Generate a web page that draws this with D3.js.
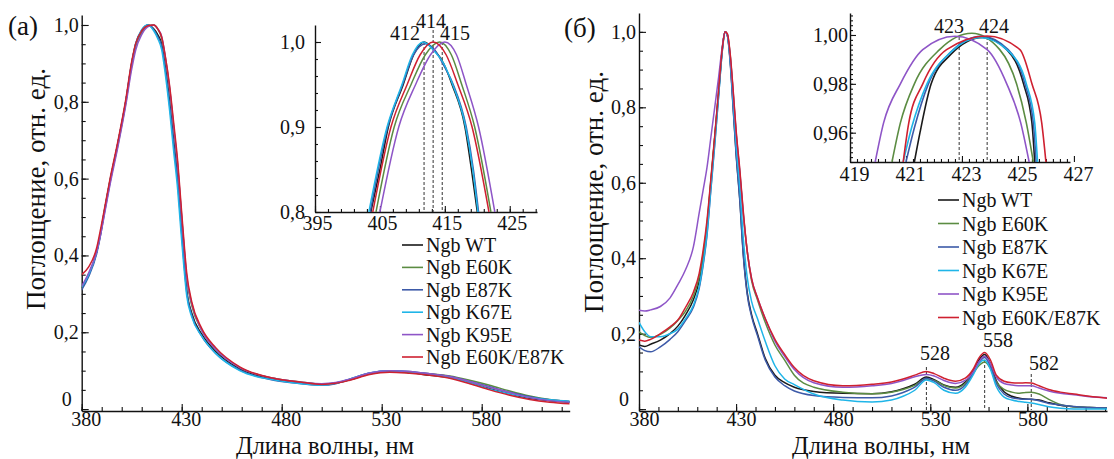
<!DOCTYPE html>
<html>
<head>
<meta charset="utf-8">
<script src="https://cdn.jsdelivr.net/npm/d3@7"></script>
<style>
  body { margin: 0; background: #fff; }
  svg, svg text { font-family: "Liberation Serif", "Times New Roman", "DejaVu Serif", serif; }
</style>
</head>
<body>
<svg width="1114" height="459"></svg>
<script>
const names = ["Ngb WT", "Ngb E60K", "Ngb E87K", "Ngb K67E", "Ngb K95E", "Ngb E60K/E87K"];
const colors = ["#1a1a1a", "#5b8c42", "#3d5aa8", "#1fb5e8", "#8e55c7", "#cf2030"];

// ---- panel (а): main spectra
const wlA = [380, 383.5, 387.5, 389.5, 391.5, 394, 398, 402, 405, 407, 410, 413, 416, 418, 420, 421.6, 424, 426, 428, 429.5, 431, 432.5, 435, 440, 447, 459, 476, 490, 500, 507, 514, 524, 534, 544, 554, 564, 574, 584, 594, 604, 614, 624];
const aWT = [0.315,0.35,0.41,0.46,0.52,0.59,0.69,0.80,0.90,0.95,0.985,1.0,0.99,0.975,0.95,0.90,0.80,0.70,0.60,0.50,0.40,0.31,0.25,0.195,0.15,0.105,0.078,0.068,0.064,0.067,0.076,0.092,0.098,0.095,0.088,0.082,0.068,0.053,0.04,0.028,0.022,0.018];
const aE60K = [0.315,0.35,0.41,0.46,0.52,0.59,0.685,0.795,0.895,0.945,0.98,0.998,1.0,0.99,0.965,0.92,0.83,0.73,0.63,0.53,0.43,0.34,0.27,0.205,0.155,0.108,0.08,0.07,0.065,0.068,0.077,0.093,0.098,0.096,0.092,0.086,0.075,0.062,0.047,0.034,0.025,0.02];
const aE87K = [0.31,0.345,0.405,0.455,0.515,0.585,0.69,0.80,0.90,0.95,0.985,1.0,0.988,0.97,0.945,0.893,0.79,0.69,0.59,0.49,0.39,0.305,0.245,0.19,0.145,0.102,0.075,0.066,0.062,0.066,0.078,0.094,0.1,0.098,0.092,0.085,0.072,0.058,0.044,0.032,0.024,0.02];
const aK67E = [0.318,0.35,0.41,0.46,0.52,0.59,0.69,0.80,0.90,0.952,0.988,1.0,0.985,0.965,0.935,0.88,0.775,0.67,0.57,0.47,0.375,0.295,0.24,0.19,0.145,0.10,0.076,0.066,0.062,0.067,0.078,0.094,0.1,0.097,0.09,0.082,0.068,0.052,0.04,0.03,0.024,0.02];
const aK95E = [0.32,0.355,0.41,0.455,0.51,0.58,0.68,0.79,0.885,0.935,0.975,0.995,1.0,0.99,0.97,0.925,0.835,0.735,0.635,0.535,0.435,0.345,0.275,0.205,0.155,0.108,0.08,0.07,0.066,0.069,0.078,0.094,0.1,0.098,0.092,0.085,0.072,0.057,0.043,0.03,0.022,0.018];
const aDbl = [0.35,0.37,0.42,0.47,0.525,0.595,0.695,0.805,0.905,0.952,0.985,0.998,1.0,0.99,0.968,0.925,0.84,0.745,0.645,0.545,0.445,0.355,0.28,0.21,0.16,0.11,0.08,0.07,0.064,0.067,0.075,0.09,0.096,0.093,0.088,0.08,0.066,0.05,0.036,0.025,0.018,0.014];

// ---- panel (а): inset, [wavelength, value] pairs
const iaWT = [[403.6,0.8],[405,0.85],[406.3,0.9],[408.6,0.95],[410.2,0.985],[411.8,1.0],[413.4,0.99],[414.8,0.975],[416.1,0.95],[418.1,0.9],[419.1,0.85],[420,0.8]];
const iaE60K = [[404.4,0.8],[407.2,0.9],[409.8,0.95],[412,0.985],[414.2,1.0],[416,0.985],[417.6,0.95],[419.6,0.9],[422.1,0.8]];
const iaE87K = [[403.5,0.8],[406.2,0.9],[408.5,0.95],[410.2,0.985],[412,0.998],[413.5,0.99],[415,0.97],[416.3,0.95],[418.3,0.9],[419.4,0.85],[420.2,0.8]];
const iaK67E = [[403.3,0.8],[406.1,0.9],[408.4,0.95],[410,0.985],[411.7,1.0],[413.3,0.99],[414.8,0.975],[416.2,0.95],[418.2,0.9],[419.3,0.85],[420.1,0.8]];
const iaK95E = [[405,0.8],[407.9,0.9],[410.5,0.95],[412.8,0.985],[415,1.0],[416.8,0.985],[418.3,0.95],[420.2,0.9],[422.7,0.8]];
const iaDbl = [[403.9,0.8],[406.7,0.9],[409.2,0.95],[411.2,0.985],[413.2,1.0],[415.2,0.985],[417,0.95],[419.2,0.9],[421.8,0.8]];
const peaksA = [411.8, 413.2, 414.6];
const peakLabelsA = ["412", "414", "415"];

// ---- panel (б): main spectra
const wlB = [380,383,386,391,396,400,404,408,411,413,415,417,419,421,423,424.3,425.5,427,428.5,430,432,433.6,435.7,438,441,445,450,455,460,470,485,500,510,516,522,528,532,537,543,548,552,555,558,561,564,568,572,576,579,582,586,591,597,604,612,621];
const bWT = [.170,.166,.172,.183,.200,.220,.250,.290,.340,.400,.480,.600,.720,.840,.960,1.000,.990,.920,.800,.680,.550,.420,.310,.250,.200,.135,.090,.070,.058,.047,.042,.041,.046,.054,.066,.085,.078,.064,.058,.072,.100,.130,.145,.120,.075,.046,.034,.029,.027,.026,.024,.017,.010,.006,.004,.003];
const bE60K = [.205,.195,.190,.198,.215,.235,.260,.300,.350,.410,.490,.605,.720,.840,.960,1.000,.993,.935,.835,.730,.620,.520,.420,.340,.290,.230,.170,.130,.090,.058,.045,.041,.045,.052,.063,.080,.076,.063,.056,.068,.094,.115,.125,.108,.072,.052,.045,.042,.044,.045,.040,.026,.012,.006,.004,.003];
const bE87K = [.165,.155,.152,.165,.185,.205,.235,.270,.320,.380,.460,.580,.700,.830,.955,1.000,.990,.915,.795,.675,.545,.415,.305,.245,.195,.130,.085,.062,.048,.036,.031,.030,.035,.044,.058,.082,.074,.058,.050,.064,.095,.123,.137,.112,.068,.040,.030,.027,.026,.026,.022,.015,.011,.007,.004,.003];
const bK67E = [.230,.205,.192,.192,.200,.212,.240,.275,.325,.385,.465,.585,.705,.830,.955,1.000,.990,.925,.815,.700,.580,.460,.350,.285,.240,.180,.115,.080,.065,.040,.024,.019,.024,.034,.050,.077,.070,.050,.042,.058,.090,.120,.130,.105,.060,.032,.024,.020,.018,.016,.012,.006,.002,0,0,0];
const bK95E = [.262,.260,.263,.272,.295,.330,.370,.430,.520,.580,.640,.720,.800,.880,.965,1.000,.993,.935,.840,.735,.625,.525,.420,.345,.295,.240,.180,.140,.105,.070,.058,.062,.068,.076,.086,.092,.088,.076,.068,.076,.098,.125,.140,.120,.085,.068,.064,.062,.062,.062,.056,.048,.042,.038,.033,.030];
const bDbl = [.183,.180,.185,.200,.218,.236,.270,.310,.360,.420,.500,.610,.725,.845,.960,1.000,.995,.940,.845,.740,.630,.530,.420,.345,.295,.240,.185,.145,.110,.075,.062,.066,.072,.080,.090,.100,.094,.082,.074,.082,.105,.135,.150,.130,.090,.074,.070,.069,.070,.069,.062,.052,.045,.040,.034,.029];
const peaksB = [528, 558, 582];

// ---- panel (б): inset
const ibWT = [[421.3,0.948],[421.5,0.96],[421.9,0.98],[422.6,0.992],[423.75,0.999],[424.6,0.994],[425.2,0.98],[425.5,0.964],[425.6,0.948]];
const ibE60K = [[420.5,0.948],[420.8,0.964],[421.3,0.98],[422.2,0.994],[423.35,1.0007],[424.35,0.994],[424.95,0.98],[425.3,0.964],[425.55,0.948]];
const ibE87K = [[421.0,0.948],[421.3,0.962],[421.8,0.98],[422.6,0.993],[423.7,0.9995],[424.65,0.994],[425.25,0.98],[425.55,0.964],[425.65,0.948]];
const ibK67E = [[420.9,0.948],[421.2,0.962],[421.75,0.98],[422.6,0.993],[423.65,0.999],[424.7,0.993],[425.3,0.98],[425.6,0.964],[425.7,0.948]];
const ibK95E = [[419.9,0.948],[420.2,0.964],[420.8,0.98],[421.6,0.994],[422.75,0.9995],[423.9,0.994],[424.6,0.98],[425.1,0.964],[425.4,0.948]];
const ibDbl = [[420.9,0.948],[421.1,0.964],[421.6,0.98],[422.45,0.994],[423.9,0.9996],[425.07,0.994],[425.5,0.98],[425.85,0.964],[426.0,0.948]];
const peaksBi = [422.9, 423.9];
const peakLabelsBi = ["423", "424"];

const FONT = "Liberation Serif";
const svg = d3.select("svg");
const comma = f => d => d === 0 ? "0" : d3.format(f)(d).replace(".", ",");

function makeAxes(p) {
  const x = d3.scaleLinear().domain(p.xDom).range(p.xRange);
  const y = d3.scaleLinear().domain(p.yDom).range(p.yRange);
  const g = svg.append("g");
  const x0 = p.xRange[0], yb = p.yRange[0];

  // minor ticks first
  g.append("g").attr("transform", `translate(0,${yb})`)
    .call(d3.axisBottom(x).tickValues(p.xMinor).tickSize(-p.minor).tickFormat(""))
    .call(a => a.select(".domain").remove());
  g.append("g").attr("transform", `translate(${x0},0)`)
    .call(d3.axisLeft(y).tickValues(p.yMinor).tickSize(-p.minor).tickFormat(""))
    .call(a => a.select(".domain").remove());

  const xa = g.append("g").attr("transform", `translate(0,${yb})`)
    .call(d3.axisBottom(x).tickValues(p.xMajor).tickSize(-p.major).tickSizeOuter(0)
      .tickPadding(p.xPad).tickFormat(d3.format("d")));
  xa.selectAll("text").attr("dx", p.xDx);
  const ya = g.append("g").attr("transform", `translate(${x0},0)`)
    .call(d3.axisLeft(y).tickValues(p.yMajor).tickSize(-p.major).tickSizeOuter(0)
      .tickPadding(p.yPad).tickFormat(comma(p.yFmt)));
  // the "0" label sits a little higher and further left, clear of the x labels
  ya.selectAll("text").filter(d => d === 0).attr("dy", "-0.2em").attr("dx", -7);

  g.attr("font-family", FONT);
  g.selectAll(".tick line").attr("stroke", "#111").attr("stroke-width", 1.1);
  g.selectAll(".domain").attr("stroke", "#111").attr("stroke-width", 1.4);
  g.selectAll("text").attr("font-family", FONT).attr("font-size", 20).attr("fill", "#111");

  svg.append("clipPath").attr("id", p.id).append("rect")
    .attr("x", p.xRange[0]).attr("y", p.yRange[1])
    .attr("width", p.xRange[1] - p.xRange[0]).attr("height", p.yRange[0] - p.yRange[1]);
  return { x, y };
}

function drawPairs(sc, clip, sets, width) {
  const line = d3.line().x(d => sc.x(d[0])).y(d => sc.y(d[1])).curve(d3.curveMonotoneX);
  svg.append("g").attr("clip-path", `url(#${clip})`)
    .selectAll("path").data(sets).join("path")
    .attr("d", line)
    .attr("fill", "none")
    .attr("stroke", (d, i) => colors[i])
    .attr("stroke-width", width);
}

function legend(x0, y0, step) {
  const lg = svg.append("g").attr("font-family", FONT);
  names.forEach((n, i) => {
    const yy = y0 + i * step;
    lg.append("line").attr("x1", x0).attr("x2", x0 + 21).attr("y1", yy).attr("y2", yy)
      .attr("stroke", colors[i]).attr("stroke-width", 1.6);
    lg.append("text").attr("x", x0 + 24).attr("y", yy).attr("dy", "0.35em")
      .attr("font-size", 20).attr("fill", "#111").text(n);
  });
}

function dashed(x, y1, y2) {
  svg.append("line").attr("x1", x).attr("x2", x).attr("y1", y1).attr("y2", y2)
    .attr("stroke", "#333").attr("stroke-width", 1).attr("stroke-dasharray", "3,2");
}

function label(x, y, t) {
  svg.append("text").attr("x", x).attr("y", y).attr("text-anchor", "middle")
    .attr("font-family", FONT).attr("font-size", 20).attr("fill", "#111").text(t);
}

// ===== panel (а) =====
const scA = makeAxes({
  id: "clipA", xDom: [380, 624], xRange: [81.7, 569.7], yDom: [-0.005, 1.026], yRange: [411, 15],
  xMajor: [380, 430, 480, 530, 580], xMinor: d3.range(380, 624, 10),
  yMajor: [0, 0.2, 0.4, 0.6, 0.8, 1.0], yMinor: d3.range(0, 1.01, 0.05),
  major: 7, minor: 4, xPad: 1, yPad: 3, xDx: 4, yFmt: ".1f"
});
const setsA = [aWT, aE60K, aE87K, aK67E, aK95E, aDbl].map(s => s.map((v, i) => [wlA[i], v]));
drawPairs(scA, "clipA", setsA, 1.5);

const scAi = makeAxes({
  id: "clipAi", xDom: [395, 429.2], xRange: [315, 537], yDom: [0.8, 1.02], yRange: [212, 25],
  xMajor: [395, 405, 415, 425], xMinor: d3.range(395, 429.5, 2),
  yMajor: [0.8, 0.9, 1.0], yMinor: d3.range(0.8, 1.02, 0.02),
  major: 6, minor: 3, xPad: 4, yPad: 10, xDx: 2, yFmt: ".1f"
});
peaksA.forEach((p, i) => dashed(scAi.x(p), i === 1 ? 30 : 42, 212));
drawPairs(scAi, "clipAi", [iaWT, iaE60K, iaE87K, iaK67E, iaK95E, iaDbl], 1.5);
const labA = [[405, 40], [431, 28], [455, 40]];
peakLabelsA.forEach((t, i) => label(labA[i][0], labA[i][1], t));

legend(402, 245, 22.4);

// ===== panel (б) =====
const scB = makeAxes({
  id: "clipB", xDom: [380, 621], xRange: [639, 1107], yDom: [-0.005, 1.05], yRange: [411, 13],
  xMajor: [380, 430, 480, 530, 580], xMinor: d3.range(380, 621, 10),
  yMajor: [0, 0.2, 0.4, 0.6, 0.8, 1.0], yMinor: d3.range(0, 1.04, 0.05),
  major: 7, minor: 4, xPad: 1, yPad: 3, xDx: 5, yFmt: ".1f"
});
const setsB = [bWT, bE60K, bE87K, bK67E, bK95E, bDbl].map(s => s.map((v, i) => [wlB[i], v]));
peaksB.forEach((p, i) => dashed(scB.x(p), [367, 360, 374][i], 410));
drawPairs(scB, "clipB", setsB, 1.5);
const labB = [[935, 360], [998, 347], [1044, 370]];
peaksB.forEach((p, i) => label(labB[i][0], labB[i][1], p));

const scBi = makeAxes({
  id: "clipBi", xDom: [419, 426.86], xRange: [850, 1070], yDom: [0.948, 1.009], yRange: [162, 13],
  xMajor: [419, 421, 423, 425, 427], xMinor: d3.range(419, 426.9, 0.25),
  yMajor: [0.96, 0.98, 1.0], yMinor: d3.range(0.948, 1.009, 0.002),
  major: 6, minor: 3, xPad: 5, yPad: 2, xDx: 4, yFmt: ".2f"
});
peaksBi.forEach(p => dashed(scBi.x(p), 37, 162));
drawPairs(scBi, "clipBi", [ibWT, ibE60K, ibE87K, ibK67E, ibK95E, ibDbl], 1.6);
const labBi = [[949, 33], [994, 33]];
peakLabelsBi.forEach((t, i) => label(labBi[i][0], labBi[i][1], t));

legend(938, 200, 23.5);

// ===== titles =====
const titles = svg.append("g").attr("fill", "#111").attr("font-size", 27).attr("font-family", FONT);
titles.append("text").attr("x", 8).attr("y", 35).text("(а)");
titles.append("text").attr("x", 564).attr("y", 37).text("(б)");
titles.append("text").attr("x", 325).attr("y", 453.5).attr("font-size", 24.5).attr("text-anchor", "middle").text("Длина волны, нм");
titles.append("text").attr("x", 881).attr("y", 453.5).attr("font-size", 24.5).attr("text-anchor", "middle").text("Длина волны, нм");
titles.append("text").attr("transform", "translate(45,189) rotate(-90)").attr("text-anchor", "middle").text("Поглощение, отн. ед.");
titles.append("text").attr("transform", "translate(603,192) rotate(-90)").attr("text-anchor", "middle").text("Поглощение, отн. ед.");
</script>
</body>
</html>
